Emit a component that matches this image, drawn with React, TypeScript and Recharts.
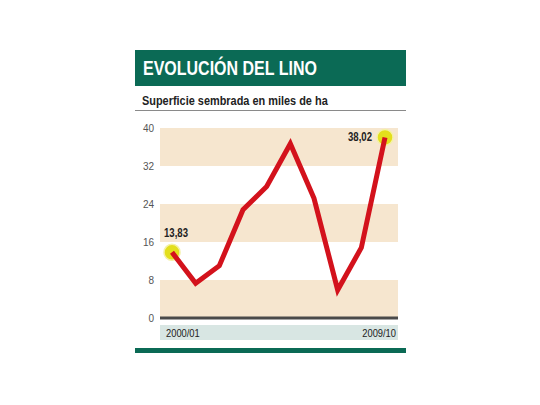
import React from "react";
import {
  LineChart,
  Line,
  XAxis,
  YAxis,
  ReferenceArea,
  ReferenceLine,
  ReferenceDot,
  LabelList,
} from "recharts";

const seasons = [
  "2000/01",
  "2001/02",
  "2002/03",
  "2003/04",
  "2004/05",
  "2005/06",
  "2006/07",
  "2007/08",
  "2008/09",
  "2009/10",
];
const area = [13.83, 7.3, 11.0, 22.8, 27.7, 36.7, 25.2, 5.9, 14.8, 38.02];
const yTicks = [0, 8, 16, 24, 32, 40];
const bands = [
  [0, 8],
  [16, 24],
  [32, 40],
];
const highlighted = [0, 9];

const data = seasons.map((s, i) => ({ season: s, value: area[i] }));

const GREEN = "#0b6a55";
const BEIGE = "#f6e6cf";
const RED = "#d3121c";
const sans = "'Liberation Sans', Arial, sans-serif";

// bands run under the axis padding too
const Band = (props: any) => {
  const { x, y, width, height } = props;
  return <rect x={x - 12} y={y} width={width + 25} height={height} fill={BEIGE} />;
};

const SeasonTick = (props: any) => {
  const { x, y, payload, index } = props;
  if (index !== 0 && index !== seasons.length - 1) return null;
  const first = index === 0;
  return (
    <text
      transform={`translate(${first ? x - 6 : x + 11},${y + 19}) scale(0.85,1)`}
      textAnchor={first ? "start" : "end"}
      fontFamily={sans}
      fontSize={11}
      fill="#222"
    >
      {payload.value}
    </text>
  );
};

const ValueLabel = (props: any) => {
  const { x, y, index, value } = props;
  if (!highlighted.includes(index)) return null;
  const first = index === 0;
  const txt = value.toFixed(2).replace(".", ",");
  return (
    <text
      transform={`translate(${first ? x - 8 : x - 13},${first ? y - 15 : y + 4}) scale(0.8,1)`}
      textAnchor={first ? "start" : "end"}
      fontFamily={sans}
      fontWeight="bold"
      fontSize={12}
      fill="#222"
    >
      {txt}
    </text>
  );
};

export default function App() {
  return (
    <div
      style={{
        position: "absolute",
        left: 0,
        top: 0,
        width: 540,
        height: 405,
        background: "#fff",
        overflow: "hidden",
      }}
    >
      <div
        style={{
          position: "absolute",
          left: 135,
          top: 50,
          width: 271,
          height: 36,
          background: GREEN,
        }}
      />
      <div
        style={{
          position: "absolute",
          left: 143,
          top: 50,
          height: 36,
          lineHeight: "37px",
          color: "#fff",
          fontFamily: sans,
          fontWeight: "bold",
          fontSize: 20,
          whiteSpace: "nowrap",
          transform: "scaleX(0.8)",
          transformOrigin: "left center",
        }}
      >
        EVOLUCIÓN DEL LINO
      </div>
      <div
        style={{
          position: "absolute",
          left: 142,
          top: 93,
          color: "#222",
          fontFamily: sans,
          fontWeight: "bold",
          fontSize: 13,
          whiteSpace: "nowrap",
          transform: "scaleX(0.84)",
          transformOrigin: "left center",
        }}
      >
        Superficie sembrada en miles de ha
      </div>
      <div
        style={{
          position: "absolute",
          left: 135,
          top: 110,
          width: 271,
          height: 1,
          background: "#8a8a8a",
        }}
      />
      <div
        style={{
          position: "absolute",
          left: 160,
          top: 325,
          width: 238,
          height: 15,
          background: "#d8e6e3",
        }}
      />
      <div
        style={{
          position: "absolute",
          left: 135,
          top: 348,
          width: 271,
          height: 5,
          background: GREEN,
        }}
      />
      <div style={{ position: "absolute", left: 0, top: 0 }}>
        <LineChart
          width={540}
          height={405}
          data={data}
          margin={{ top: 128, right: 142, bottom: 57, left: 130 }}
        >
          {bands.map(([a, b]) => (
            <ReferenceArea
              key={a}
              y1={a}
              y2={b}
              ifOverflow="visible"
              shape={<Band />}
            />
          ))}
          <ReferenceLine y={0} stroke="#4a4a4a" strokeWidth={3} />
          <XAxis
            dataKey="season"
            axisLine={false}
            tickLine={false}
            tickSize={0}
            tickMargin={0}
            height={30}
            interval={0}
            padding={{ left: 12, right: 13 }}
            tick={<SeasonTick />}
          />
          <YAxis
            width={30}
            domain={[0, 40]}
            ticks={yTicks}
            axisLine={false}
            tickLine={false}
            tickSize={0}
            tickMargin={6}
            tick={{ fontSize: 10, fill: "#555", fontFamily: sans }}
          />
          {highlighted.map((i) => (
            <ReferenceDot
              key={i}
              x={seasons[i]}
              y={area[i]}
              r={8}
              fill="#e3df1c"
              stroke="#f4f1a6"
              strokeWidth={1.5}
              ifOverflow="visible"
              zIndex={350}
            />
          ))}
          <Line
            dataKey="value"
            type="linear"
            stroke={RED}
            strokeWidth={5}
            strokeLinejoin="miter"
            dot={false}
            activeDot={false}
            isAnimationActive={false}
            zIndex={400}
          >
            <LabelList dataKey="value" content={<ValueLabel />} />
          </Line>
        </LineChart>
      </div>
    </div>
  );
}
